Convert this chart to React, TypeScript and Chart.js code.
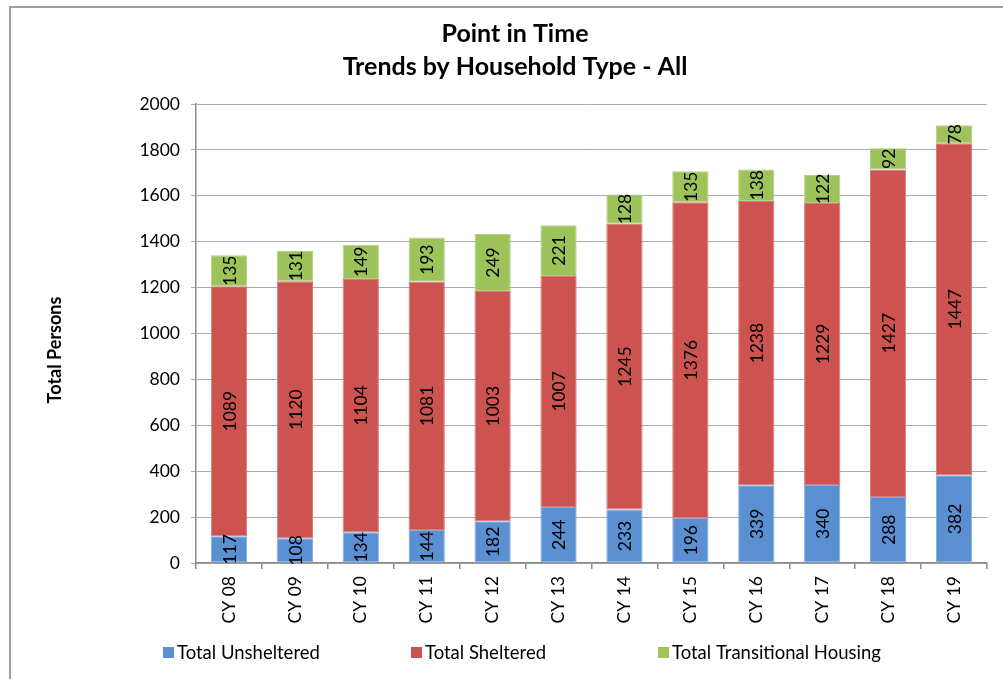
import React, { useEffect, useRef } from "react";
import { Chart, registerables } from "chart.js";

Chart.register(...registerables);

const categories = ["CY 08", "CY 09", "CY 10", "CY 11", "CY 12", "CY 13", "CY 14", "CY 15", "CY 16", "CY 17", "CY 18", "CY 19"];
const unsheltered = [117, 108, 134, 144, 182, 244, 233, 196, 339, 340, 288, 382];
const sheltered = [1089, 1120, 1104, 1081, 1003, 1007, 1245, 1376, 1238, 1229, 1427, 1447];
const transitional = [135, 131, 149, 193, 249, 221, 128, 135, 138, 122, 92, 78];
const seriesNames = ["Total Unsheltered", "Total Sheltered", "Total Transitional Housing"];
const titleLines = ["Point in Time", "Trends by Household Type - All"];
const yAxisTitle = "Total Persons";

const FONT = "Lato, 'Noto Sans', sans-serif";
const COLORS = ["#5A8FD2", "#CD5350", "#9DC35A"];
const BORDERS = ["#86AEE0", "#D87A77", "#B3D286"];

const W = 1003;
const H = 679;
const PLOT_LEFT = 196;
const PLOT_RIGHT = 987;
const PLOT_TOP = 104;
const PLOT_BOTTOM = 563;

const decorPlugin = {
  id: "decor",
  beforeDraw(chart: any) {
    const ctx = chart.ctx;
    ctx.save();
    ctx.fillStyle = "#ffffff";
    ctx.fillRect(0, 0, W, H);
    ctx.strokeStyle = "#a0a0a0";
    ctx.lineWidth = 2;
    ctx.beginPath();
    ctx.moveTo(10, H);
    ctx.lineTo(10, 7);
    ctx.lineTo(W, 7);
    ctx.stroke();
    ctx.restore();
  },
  afterDraw(chart: any) {
    const ctx = chart.ctx;
    ctx.save();
    ctx.fillStyle = "#000";
    ctx.font = `bold 25px ${FONT}`;
    ctx.textAlign = "center";
    ctx.textBaseline = "middle";
    ctx.fillText(titleLines[0], 515, 34);
    ctx.fillText(titleLines[1], 515, 67);
    ctx.save();
    ctx.translate(55, 350);
    ctx.rotate(-Math.PI / 2);
    ctx.font = `bold 18px ${FONT}`;
    ctx.fillText(yAxisTitle, 0, 0);
    ctx.restore();
    const xs = [163, 411, 658];
    ctx.font = `18.5px ${FONT}`;
    ctx.textAlign = "left";
    chart.data.datasets.forEach((ds: any, i: number) => {
      ctx.fillStyle = ds.backgroundColor;
      ctx.fillRect(xs[i], 647, 11, 11);
      ctx.fillStyle = "#000";
      ctx.fillText(ds.label, xs[i] + 14, 653);
    });
    ctx.restore();
  },
  afterDatasetsDraw(chart: any) {
    const ctx = chart.ctx;
    ctx.save();
    ctx.font = `17.5px ${FONT}`;
    ctx.fillStyle = "#000";
    ctx.textAlign = "center";
    ctx.textBaseline = "middle";
    chart.data.datasets.forEach((ds: any, di: number) => {
      const meta = chart.getDatasetMeta(di);
      meta.data.forEach((el: any, i: number) => {
        const cy = (el.y + el.base) / 2;
        ctx.save();
        ctx.translate(el.x, cy);
        ctx.rotate(-Math.PI / 2);
        ctx.fillText(String(ds.data[i]), 0, 1);
        ctx.restore();
      });
    });
    ctx.restore();
  },
};

export default function App() {
  const ref = useRef<HTMLCanvasElement | null>(null);
  useEffect(() => {
    document.body.style.margin = "0";
    document.body.style.overflow = "hidden";
    if (!ref.current) return;
    const chart = new Chart(ref.current, {
      type: "bar",
      data: {
        labels: categories,
        datasets: [unsheltered, sheltered, transitional].map((d, i) => ({
          label: seriesNames[i],
          data: d,
          backgroundColor: COLORS[i],
          borderColor: BORDERS[i],
          borderWidth: 1,
          borderSkipped: false,
          categoryPercentage: 1,
          barPercentage: 0.55,
        })),
      },
      options: {
        animation: false,
        responsive: false,
        devicePixelRatio: 1,
        layout: { padding: { left: 0, top: PLOT_TOP, right: W - PLOT_RIGHT, bottom: 0 } },
        plugins: {
          legend: { display: false },
          title: { display: false },
          tooltip: { enabled: false },
        },
        scales: {
          x: {
            stacked: true,
            afterFit: (s: any) => {
              s.height = H - PLOT_BOTTOM;
            },
            grid: {
              offset: true,
              drawOnChartArea: false,
              drawTicks: true,
              tickLength: 6,
              color: "#8c8c8c",
              lineWidth: 1.5,
            },
            border: { display: true, color: "#8c8c8c", width: 1.5 },
            ticks: {
              minRotation: 90,
              maxRotation: 90,
              padding: 7,
              color: "#000",
              font: { family: FONT, size: 17.5 },
              autoSkip: false,
            },
          },
          y: {
            stacked: true,
            min: 0,
            max: 2000,
            afterFit: (s: any) => {
              s.width = PLOT_LEFT;
            },
            grid: {
              color: "#ababab",
              lineWidth: 1,
              drawTicks: true,
              tickLength: 5,
            },
            border: { display: true, color: "#8c8c8c", width: 1.5 },
            ticks: {
              stepSize: 200,
              padding: 11,
              color: "#000",
              font: { family: FONT, size: 17.5 },
              callback: (v: any) => String(v),
            },
          },
        },
      },
      plugins: [decorPlugin],
    });
    return () => chart.destroy();
  }, []);
  return (
    <div style={{ position: "fixed", left: 0, top: 0, width: W, height: H }}>
      <canvas ref={ref} width={W} height={H} style={{ display: "block", width: W, height: H }} />
    </div>
  );
}
